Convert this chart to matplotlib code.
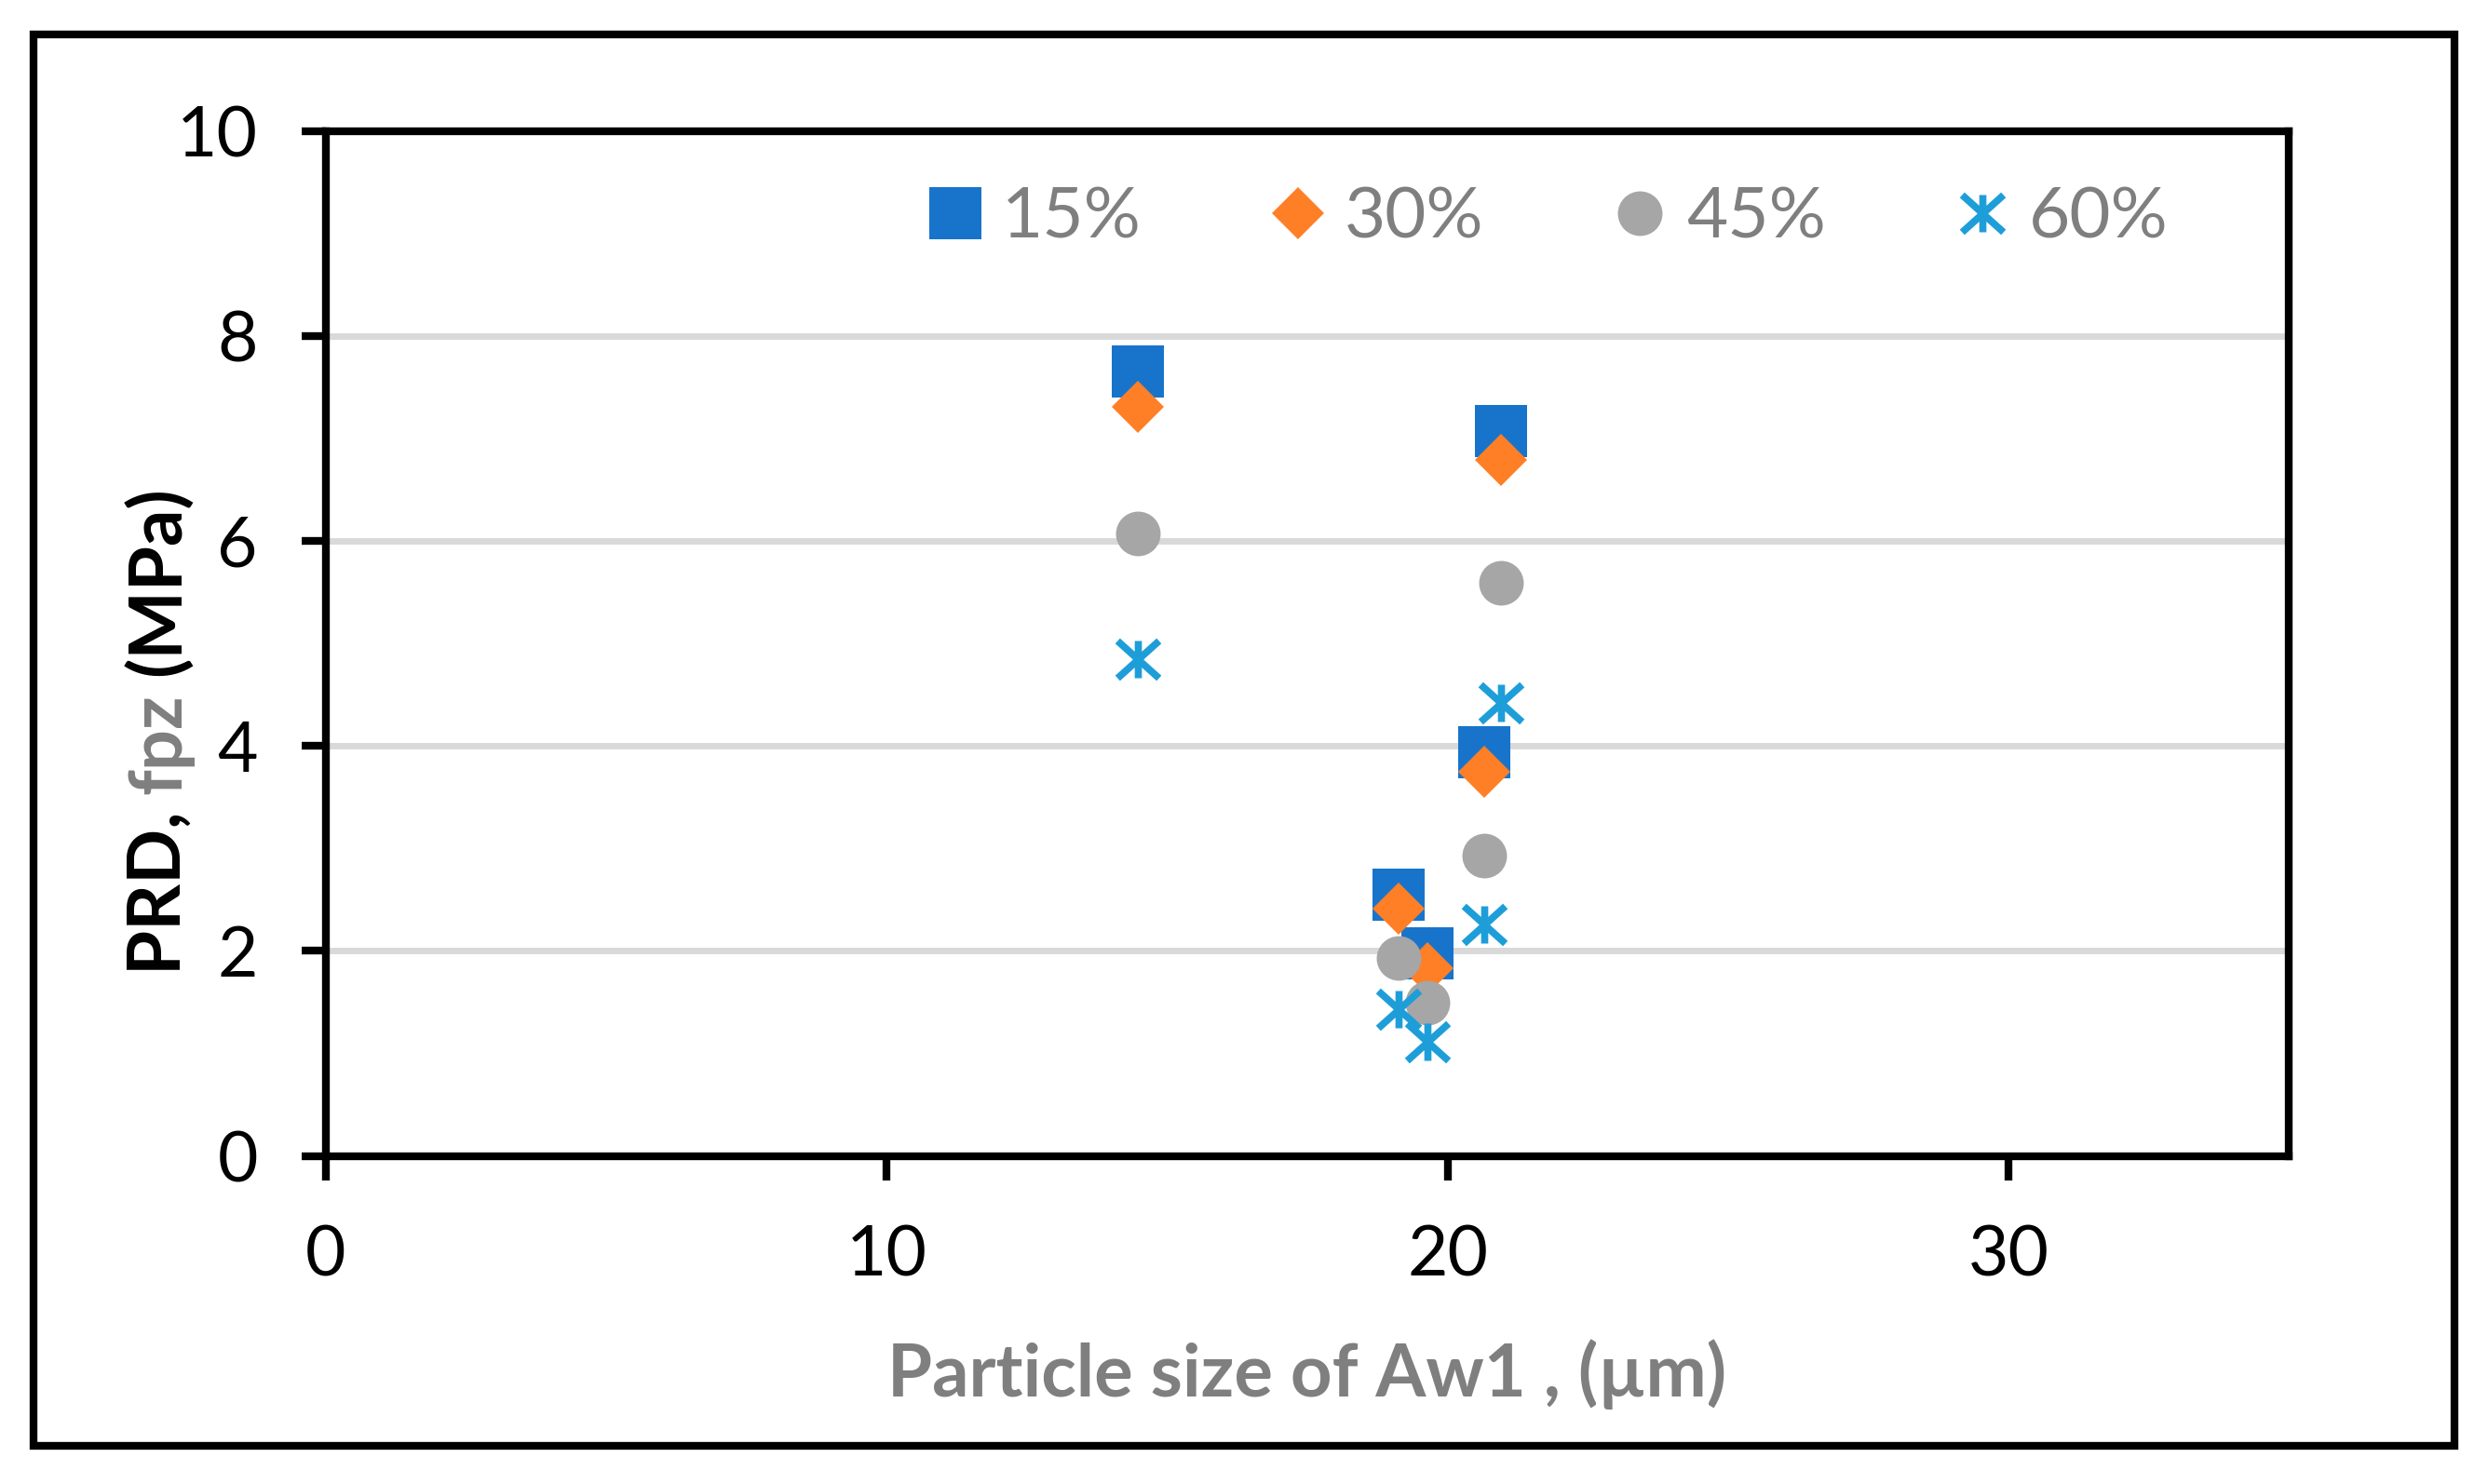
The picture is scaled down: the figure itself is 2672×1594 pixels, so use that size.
import matplotlib
matplotlib.use('Agg')
import matplotlib.pyplot as plt
from matplotlib.path import Path
from matplotlib.patches import Rectangle

# data
size_um = [14.48, 19.13, 19.64, 20.65, 20.95]
prd_15 = [7.65, 2.55, 1.98, 3.94, 7.07]
prd_30 = [7.31, 2.41, 1.83, 3.75, 6.79]
prd_45 = [6.07, 1.93, 1.49, 2.93, 5.59]
prd_60 = [4.85, 1.43, 1.11, 2.26, 4.42]
labels = ['15%', '30%', '45%', '60%']

plt.rcParams['font.family'] = ['Lato', 'DejaVu Sans']

W, H = 2672, 1594
fig = plt.figure(figsize=(W / 100, H / 100), dpi=100)
ax = fig.add_axes([350 / W, 1 - 1241.5 / H, 2108 / W, 1101 / H])

# excel-like asterisk: vertical bar + an X
star = Path([(0, -0.9), (0, 0.9), (-1, -0.9), (1, 0.9), (-1, 0.9), (1, -0.9)],
            [Path.MOVETO, Path.LINETO] * 3)

ax.plot(size_um, prd_15, 's', ms=40, color='#1874CB', mew=0, label=labels[0])
ax.plot(size_um, prd_30, 'D', ms=29, color='#FF7F27', mew=0, label=labels[1])
ax.plot(size_um, prd_45, 'o', ms=34.5, color='#A6A6A6', mew=0, label=labels[2])
ax.plot(size_um, prd_60, ls='none', marker=star, ms=32, mew=5.5, mec='#1E9ED9',
        mfc='none', label=labels[3])

ax.set_xlim(0, 35)
ax.set_ylim(0, 10)
ax.set_xticks([0, 10, 20, 30])
ax.set_yticks(range(0, 11, 2))
ax.grid(axis='y', color='#D9D9D9', lw=5)
ax.set_axisbelow(True)
for s in ax.spines.values():
    s.set_linewidth(6)
    s.set_color('black')
ax.tick_params(direction='out', length=18.7, width=6, labelsize=54, pad=34)

ax.legend(loc='center', bbox_to_anchor=(0.6224, 0.915), ncol=4, frameon=False,
          fontsize=55, labelcolor='#7F7F7F', handlelength=0.8, handletextpad=0.25,
          columnspacing=1.8, numpoints=1, borderaxespad=0)

ax.set_xlabel('Particle size of Aw1 , (µm)', fontsize=56, fontweight='bold',
              color='#7F7F7F', va='baseline')
ax.xaxis.set_label_coords(0.5, (1241.5 - 1500) / 1101)

# y label with a gray middle part -> three rotated pieces on one baseline
renderer = fig.canvas.get_renderer()

def text_w(s):
    t = fig.text(0, 0, s, fontsize=56, fontweight='bold')
    w = t.get_window_extent(renderer).width
    t.remove()
    return w

full = 'PRD, fpz (MPa)'
wf = text_w(full)
w1 = wf - text_w('fpz (MPa)')
w2 = wf - text_w('(MPa)')
y_start = H - 785 - wf / 2
for s, off, c in [('PRD, ', 0, 'black'), ('fpz', w1, '#7F7F7F'), ('(MPa)', w2, 'black')]:
    fig.text(194 / W, (y_start + off) / H, s, rotation=90, rotation_mode='anchor',
             ha='left', va='baseline', fontsize=56, fontweight='bold', color=c)

# outer border of the picture
fig.add_artist(Rectangle((36 / W, 1 - 1553 / H), 2600 / W, 1516 / H,
                         transform=fig.transFigure, fill=False, lw=6, ec='black'))

fig.savefig('out.png', dpi=100)
